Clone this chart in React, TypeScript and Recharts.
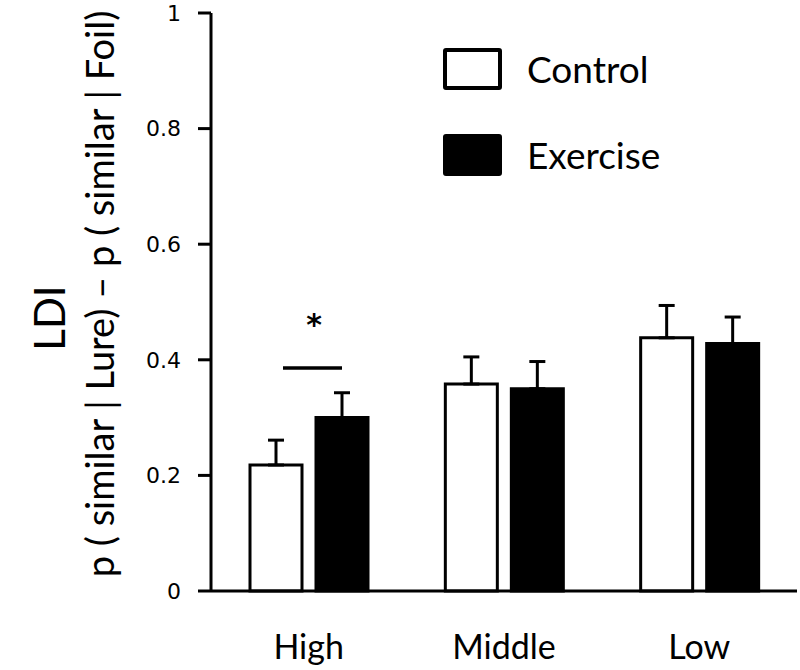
import { BarChart, Bar, XAxis, YAxis, ErrorBar, Legend } from 'recharts';

const groups = ['High', 'Middle', 'Low'];
const control = [0.218, 0.358, 0.438];
const exercise = [0.3, 0.35, 0.428];
const controlErr = [0.043, 0.047, 0.056];
const exerciseErr = [0.043, 0.047, 0.046];
const yTicks = [0, 0.2, 0.4, 0.6, 0.8, 1];
const sigMark = '*';

const data = groups.map((g, i) => ({
  group: g,
  control: control[i],
  exercise: exercise[i],
  controlErr: [0, controlErr[i]],
  exerciseErr: [0, exerciseErr[i]],
}));

const textFont = 'Lato, "Open Sans", sans-serif';

function YLabel(props: any) {
  const vb = props.viewBox || { x: 0, y: 13, width: 211, height: 578 };
  const cy = vb.y + vb.height / 2;
  const x1 = vb.x + 49;
  const y1 = cy + 16;
  const x2 = vb.x + 99;
  const y2 = cy - 8;
  return (
    <g>
      <text x={x1} y={y1} transform={`rotate(-90, ${x1}, ${y1})`} textAnchor="middle" dominantBaseline="central"
        fontSize={42} fontFamily={textFont} fill="#000">LDI</text>
      <text x={x2} y={y2} transform={`rotate(-90, ${x2}, ${y2})`} textAnchor="middle" dominantBaseline="central"
        fontSize={38} fontFamily={textFont} fill="#000">p ( similar | Lure) – p ( similar | Foil)</text>
    </g>
  );
}

function LegendBox() {
  const items = [
    { label: 'Control', fill: '#fff' },
    { label: 'Exercise', fill: '#000' },
  ];
  return (
    <div style={{ fontFamily: textFont }}>
      {items.map((it, i) => (
        <div key={it.label} style={{ display: 'flex', alignItems: 'center', height: 42, marginBottom: i === 0 ? 44 : 0 }}>
          <div style={{ width: 51, height: 34, background: it.fill, border: '4px solid #000', borderRadius: 3 }} />
          <span style={{ marginLeft: 25, fontSize: 37, color: '#000', lineHeight: '42px' }}>{it.label}</span>
        </div>
      ))}
    </div>
  );
}

export default function App() {
  return (
    <div style={{ position: 'absolute', left: 0, top: 0, width: 800, height: 670, background: '#fff' }}>
      <BarChart width={800} height={670} data={data} margin={{ top: 13, right: 3, bottom: 0, left: 0 }}
        barSize={52} barGap={14}>
        <XAxis dataKey="group" height={79} axisLine={{ stroke: '#000', strokeWidth: 3 }} tickLine={false}
          tickMargin={38} tick={{ fontSize: 34, fontFamily: textFont, fill: '#000' }} interval={0} />
        <YAxis width={211} domain={[0, 1]} ticks={yTicks} interval={0}
          axisLine={{ stroke: '#000', strokeWidth: 3 }} tickLine={{ stroke: '#000', strokeWidth: 3 }}
          tickSize={13} tickMargin={17}
          tick={{ fontSize: 22, fontFamily: '"DejaVu Sans", sans-serif', fill: '#000' }}
          tickFormatter={(v: number) => (v === 0 || v === 1 ? String(v) : v.toFixed(1))}
          label={<YLabel />} />
        <Legend layout="vertical" align="center" verticalAlign="middle" content={<LegendBox />}
          wrapperStyle={{ position: 'absolute', left: 443, top: 48, width: 300 }} />
        <Bar dataKey="control" name="Control" fill="#fff" stroke="#000" strokeWidth={3} isAnimationActive={false}>
          <ErrorBar dataKey="controlErr" direction="y" width={8} stroke="#000" strokeWidth={3} />
        </Bar>
        <Bar dataKey="exercise" name="Exercise" fill="#000" stroke="#000" strokeWidth={3} isAnimationActive={false}>
          <ErrorBar dataKey="exerciseErr" direction="y" width={8} stroke="#000" strokeWidth={3} />
        </Bar>
      </BarChart>
      <svg width={800} height={670} style={{ position: 'absolute', left: 0, top: 0, pointerEvents: 'none' }}>
        <line x1={283} x2={342} y1={368} y2={368} stroke="#000" strokeWidth={3.5} />
        <text x={314} y={335} textAnchor="middle" fontSize={30} fontWeight="bold"
          fontFamily='"DejaVu Sans", sans-serif' fill="#000">{sigMark}</text>
      </svg>
    </div>
  );
}
